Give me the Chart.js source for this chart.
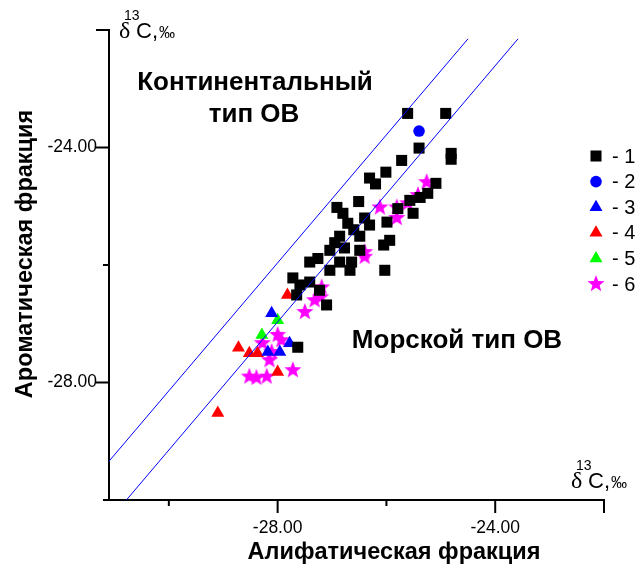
<!DOCTYPE html>
<html>
<head>
<meta charset="utf-8">
<script src="https://cdn.jsdelivr.net/npm/chart.js@4.4.1/dist/chart.umd.min.js"></script>
<style>
  html, body { margin: 0; padding: 0; background: #fff; }
  #wrap { width: 641px; height: 569px; }
</style>
</head>
<body>
<div id="wrap"><canvas id="chart" width="641" height="569"></canvas></div>
<script>
// ---- data (δ13C, ‰) : [aliphatic, aromatic] ----
const series1 = [
  [-25.61, -23.42], [-24.91, -23.42], [-25.40, -24.01], [-24.81, -24.10], [-24.81, -24.20],
  [-25.72, -24.22], [-26.01, -24.42], [-26.31, -24.52], [-26.20, -24.62], [-25.09, -24.61],
  [-26.51, -24.92], [-26.91, -25.02], [-26.80, -25.12], [-26.71, -25.29], [-26.40, -25.20],
  [-26.31, -25.32], [-25.99, -25.27], [-25.79, -25.04], [-25.57, -24.90], [-25.38, -24.85],
  [-25.24, -24.78], [-25.51, -25.12], [-25.94, -25.58], [-26.05, -25.66], [-26.49, -25.51],
  [-26.86, -25.51], [-27.04, -25.75], [-26.77, -25.71], [-26.49, -25.75], [-27.26, -25.89],
  [-26.86, -25.95], [-26.64, -25.95], [-27.04, -26.09], [-26.67, -26.09], [-26.03, -26.09],
  [-27.41, -25.95], [-27.59, -26.34], [-27.72, -26.22], [-27.41, -26.29], [-27.23, -26.43],
  [-27.65, -26.51], [-27.10, -26.68], [-27.63, -27.40], [-26.95, -25.62], [-26.60, -25.40]
];
const series2 = [[-25.40, -23.72]];
const series3 = [[-28.11, -26.82], [-27.96, -27.48], [-27.78, -27.33], [-28.18, -27.48]];
const series4 = [[-27.82, -26.51], [-28.72, -27.41], [-28.52, -27.50], [-28.37, -27.50], [-28.00, -27.82], [-29.10, -28.52]];
const series5 = [[-28.00, -26.94], [-28.29, -27.19]];
const series6 = [
  [-25.26, -24.59], [-25.42, -24.81], [-25.61, -24.95], [-25.81, -25.02], [-26.12, -25.02],
  [-25.81, -25.20], [-26.40, -25.86], [-26.40, -25.78], [-27.19, -26.38], [-27.32, -26.60],
  [-27.50, -26.80], [-27.21, -26.55], [-28.00, -27.19], [-27.93, -27.28], [-28.11, -27.48],
  [-28.28, -27.33], [-28.52, -27.90], [-28.39, -27.92], [-28.20, -27.90], [-27.72, -27.79],
  [-28.15, -27.62]
];
// boundary lines between continental and marine OM
const upperLine = [[-31.1, -29.34], [-24.50, -22.15]];
const lowerLine = [[-30.78, -30.0], [-23.58, -22.15]];

const xMin = -31.1, xMax = -22, yMin = -30, yMax = -22;
const tickValues = [-30, -28, -26, -24, -22];
const labelledTicks = [-28, -24];
const longTicks = [-28, -24, -22];
const legendLabels = ["- 1", "- 2", "- 3", "- 4", "- 5", "- 6"];

// ======================== STAR MARKER ========================

function makeStar(r, color) {
  const c = document.createElement("canvas");
  const s = Math.ceil(r * 2 + 2);
  c.width = s; c.height = s;
  const g = c.getContext("2d");
  g.beginPath();
  for (let i = 0; i < 10; i++) {
    const rad = i % 2 === 0 ? r : r * 0.42;
    const a = -Math.PI / 2 + i * Math.PI / 5;
    const px = s / 2 + rad * Math.cos(a), py = s / 2 + rad * Math.sin(a);
    i === 0 ? g.moveTo(px, py) : g.lineTo(px, py);
  }
  g.closePath();
  g.fillStyle = color;
  g.fill();
  return c;
}
const starImg = makeStar(9, "#ff00ff");

const toPts = (arr) => arr.map(([x, y]) => ({ x, y }));

const markers = [
  { pointStyle: "rect", radius: 7.8, color: "#000000" },
  { pointStyle: "circle", radius: 5.8, color: "#0000ff" },
  { pointStyle: "triangle", radius: 7.5, color: "#0000ff" },
  { pointStyle: "triangle", radius: 7.5, color: "#ff0000" },
  { pointStyle: "triangle", radius: 7.5, color: "#00ff00" },
  { pointStyle: starImg, radius: 9, color: "#ff00ff" }
];

function scatterSet(data, m) {
  return {
    type: "scatter",
    data: toPts(data),
    pointStyle: m.pointStyle,
    pointRadius: m.radius,
    pointBackgroundColor: m.color,
    pointBorderColor: m.color,
    pointBorderWidth: 0
  };
}

function lineSet(data) {
  return {
    type: "line",
    data: toPts(data),
    borderColor: "#0000ff",
    borderWidth: 1,
    pointRadius: 0,
    fill: false
  };
}

// ======================== DECORATIONS ========================

function drawDelta(ctx, x, y) {
  ctx.textAlign = "left";
  ctx.textBaseline = "alphabetic";
  ctx.font = "24px 'Liberation Serif', serif";
  ctx.fillText("δ", x, y);
  ctx.font = "14px 'Liberation Sans', Arial, sans-serif";
  ctx.fillText("13", x + 5, y - 18);
  ctx.font = "22px 'Liberation Sans', Arial, sans-serif";
  ctx.fillText("C,", x + 17, y);
  ctx.font = "16px 'Liberation Sans', Arial, sans-serif";
  ctx.fillText("‰", x + 40, y);
  ctx.textBaseline = "middle";
}

const decorPlugin = {
  id: "decor",
  afterDraw(chart) {
    const ctx = chart.ctx;
    const xs = chart.scales.x, ys = chart.scales.y;
    ctx.save();
    ctx.strokeStyle = "#000";
    ctx.lineWidth = 2;
    // tick marks
    tickValues.forEach((v) => {
      const len = longTicks.includes(v) ? 13 : 6;
      const px = xs.getPixelForValue(v);
      ctx.beginPath(); ctx.moveTo(px, xs.top); ctx.lineTo(px, xs.top + len); ctx.stroke();
      const py = ys.getPixelForValue(v);
      ctx.beginPath(); ctx.moveTo(ys.right, py); ctx.lineTo(ys.right - len, py); ctx.stroke();
    });

    ctx.fillStyle = "#000";
    ctx.textBaseline = "middle";
    // region labels
    ctx.font = "bold 26px 'Liberation Sans', Arial, sans-serif";
    ctx.textAlign = "center";
    ctx.fillText("Континентальный", 255, 83);
    ctx.fillText("тип ОВ", 254, 115);
    ctx.fillText("Морской тип ОВ", 457, 341);

    // axis titles
    ctx.font = "bold 23.5px 'Liberation Sans', Arial, sans-serif";
    ctx.fillText("Алифатическая фракция", 394, 553);
    ctx.save();
    ctx.translate(26, 254);
    ctx.rotate(-Math.PI / 2);
    ctx.fillText("Ароматическая фракция", 0, 0);
    ctx.restore();

    // δ13C, ‰ units
    drawDelta(ctx, 119, 38);
    drawDelta(ctx, 571, 488);

    // legend
    markers.forEach((m, i) => {
      const ly = 156 + i * 25.6;
      ctx.fillStyle = m.color;
      Chart.helpers.drawPoint(ctx, {
        pointStyle: m.pointStyle,
        radius: m.radius, rotation: 0, borderWidth: 0
      }, 596, ly);
      ctx.fillStyle = "#000";
      ctx.font = "20px 'Liberation Sans', Arial, sans-serif";
      ctx.textAlign = "left";
      ctx.textBaseline = "middle";
      ctx.fillText(legendLabels[i], 612, ly + 1);
    });
    ctx.restore();
  }
};

const tickFont = { family: "'Liberation Sans', Arial, sans-serif", size: 17.5 };

new Chart(document.getElementById("chart"), {
  data: {
    datasets: [
      lineSet(upperLine),
      lineSet(lowerLine),
      scatterSet(series1, markers[0]),
      scatterSet(series2, markers[1]),
      scatterSet(series3, markers[2]),
      scatterSet(series4, markers[3]),
      scatterSet(series5, markers[4]),
      scatterSet(series6, markers[5])
    ]
  },
  options: {
    responsive: false,
    animation: false,
    layout: { padding: { top: 30, right: 37, left: 0, bottom: 0 } },
    plugins: { legend: { display: false }, tooltip: { enabled: false } },
    scales: {
      x: {
        type: "linear", min: xMin, max: xMax,
        afterFit: (s) => { s.height = 69; },
        grid: { display: false, drawTicks: false },
        border: { display: true, color: "#000", width: 2 },
        ticks: {
          stepSize: 2, padding: 18, font: tickFont, color: "#000", maxRotation: 0,
          callback: (v) => (labelledTicks.includes(v) ? v.toFixed(2) : "")
        }
      },
      y: {
        type: "linear", min: yMin, max: yMax,
        afterFit: (s) => { s.width = 109; },
        grid: { display: false, drawTicks: false },
        border: { display: true, color: "#000", width: 2 },
        ticks: {
          stepSize: 2, padding: 12, font: tickFont, color: "#000",
          callback: (v) => (labelledTicks.includes(v) ? v.toFixed(2) : "")
        }
      }
    }
  },
  plugins: [decorPlugin]
});
</script>
</body>
</html>
